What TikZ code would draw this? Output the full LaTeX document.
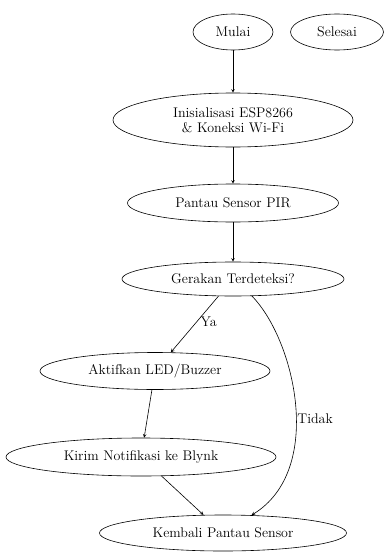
\documentclass[tikz,border=0pt]{standalone}
\usetikzlibrary{shapes.geometric}
\begin{document}
\begin{tikzpicture}[>=stealth, x=1pt, y=-1pt,
    proses/.style={ellipse, draw, semithick, inner sep=0pt, font=\fontsize{14}{15}\selectfont, align=center},
    alur/.style={->, semithick},
    label/.style={font=\fontsize{14}{15}\selectfont}]
			
			% Batas gambar
			\useasboundingbox (0,0) rectangle (387,554);
			
			% Simpul-simpul (elips)
			\node[proses, minimum width=80, minimum height=36] (mulai) at (233,32) {Mulai};
			\node[proses, minimum width=93, minimum height=36] (selesai) at (337,32) {Selesai};
			\node[proses, minimum width=240, minimum height=54] (init) at (233,120) {Inisialisasi ESP8266\\ \& Koneksi Wi-Fi};
			\node[proses, minimum width=211, minimum height=38] (pantau) at (233,203) {Pantau Sensor PIR};
			\node[proses, minimum width=222, minimum height=34] (gerak) at (233,279) {Gerakan Terdeteksi?};
			\node[proses, minimum width=230, minimum height=37] (aktif) at (155,371) {Aktifkan LED/Buzzer};
			\node[proses, minimum width=270, minimum height=38] (kirim) at (141,457) {Kirim Notifikasi ke Blynk};
			\node[proses, minimum width=247, minimum height=36] (kembali) at (223,533) {Kembali Pantau Sensor};
			
			% Panah alur utama
			\draw[alur] (mulai) -- (init);
			\draw[alur] (init) -- (pantau);
			\draw[alur] (pantau) -- (gerak);
			\draw[alur] (gerak) -- node[label, right, pos=0.45] {Ya} (aktif);
			\draw[alur] (aktif) -- (kirim);
			\draw[alur] (kirim) -- (kembali);
			
			% Cabang tidak
			\draw[alur] (gerak.-42) .. controls (295,340) and (325,470) .. node[label, right, pos=0.55, inner sep=1pt] {Tidak} (kembali.32);
			
		\end{tikzpicture}
\end{document}
